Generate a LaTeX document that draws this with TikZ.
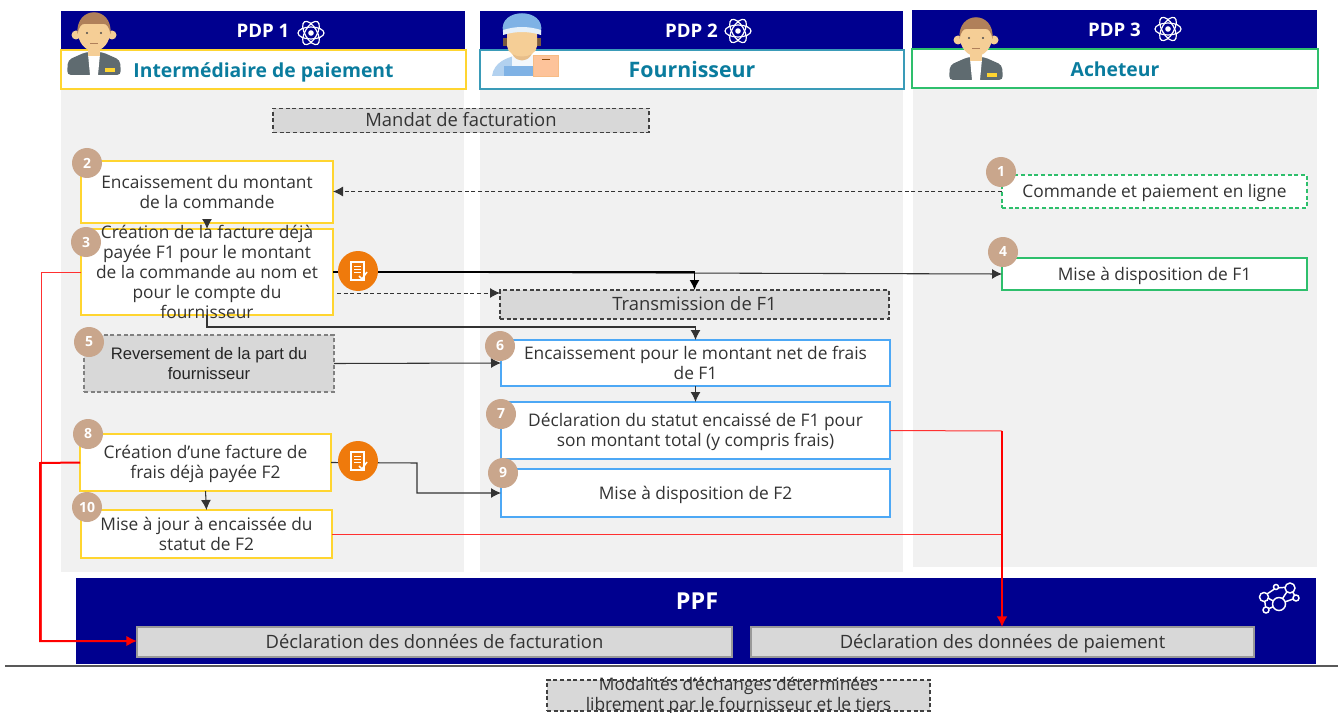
\documentclass[tikz,border=0pt]{standalone}
\usepackage{fontspec}
\setmainfont{Open Sans}
\newfontfamily\arialf{Liberation Sans}
\usetikzlibrary{arrows.meta,calc}
\definecolor{navy}{HTML}{00008F}
\definecolor{panel}{HTML}{F1F1F1}
\definecolor{boxgray}{HTML}{D8D8D8}
\definecolor{ylw}{HTML}{FFD530}
\definecolor{blu}{HTML}{4DA8F5}
\definecolor{teal2}{HTML}{3A9BB8}
\definecolor{grn}{HTML}{2EBF6C}
\definecolor{tan2}{HTML}{C9A68C}
\definecolor{orng}{HTML}{EF7A0C}
\definecolor{titlec}{HTML}{0A7C9E}
\definecolor{txt}{HTML}{333333}
\definecolor{skin}{HTML}{F5CE96}
\definecolor{hair}{HTML}{B0805A}
\definecolor{jacket}{HTML}{5F6B70}
\definecolor{capb}{HTML}{7FB2E5}
\definecolor{boxo}{HTML}{FDC39A}
\definecolor{redl}{HTML}{FF3030}
\newcommand\topstrut{\rule{0pt}{13.9pt}}
\newcommand\botstrut{\rule[-4.5pt]{0pt}{4.5pt}}
\tikzset{
  base/.style={inner sep=0pt,outer sep=0pt,align=center,text=txt,font=\fontsize{13}{15}\selectfont,line width=.8pt,execute at begin node=\topstrut,execute at end node=\botstrut},
  big/.style={font=\fontsize{13.8}{15}\selectfont},
  ybox/.style={base,draw=ylw,fill=white},
  bbox/.style={base,draw=blu,fill=white},
  gbox/.style={base,draw=grn,fill=white},
  gdash/.style={gbox,dash pattern=on 3pt off 2pt},
  dbox/.style={base,big,draw=black!75,fill=boxgray,dash pattern=on 3pt off 2pt},
  dboxa/.style={base,fill=boxgray,dash pattern=on 3pt off 2pt,draw=black!50,font=\arialf\fontsize{12.5}{15}\selectfont,text=black!85},
  pbox/.style={base,big,draw=black!40,fill=boxgray},
  head/.style={base,draw=none,fill=navy,text=white,font=\bfseries\fontsize{14}{16}\selectfont},
  role/.style={base,fill=white,text=titlec,font=\bfseries\fontsize{14.5}{16}\selectfont},
  num/.style={circle,fill=tan2,text=white,font=\bfseries\fontsize{10.5}{12}\selectfont,minimum size=22.5pt,inner sep=0pt},
  orb/.style={circle,fill=orng,minimum size=30pt,inner sep=0pt},
  flow/.style={draw=black!80,line width=.8pt,-{Latex[length=7.5pt,width=7.5pt]}},
  flowk/.style={flow,draw=black,line width=1pt},
  flowd/.style={flow,line width=.7pt,dash pattern=on 3pt off 2pt},
  red1/.style={draw=redl,line width=.75pt},
  red2/.style={draw=red,line width=1.5pt,-{Latex[length=8pt,width=8pt]}},
}
\newcommand\bx[7]{%
  \pgfmathsetmacro\bxcx{(#3+#5)/2}\pgfmathsetmacro\bxcy{(#4+#6)/2}%
  \pgfmathsetmacro\bxw{(#5-#3)*0.75}\pgfmathsetmacro\bxh{(#6-#4)*0.75}%
  \node[#2,minimum width=\bxw pt,minimum height=\bxh pt] (#1) at (\bxcx,\bxcy) {#7};}
\newcommand\atom[2]{%
  \begin{scope}[shift={(#1,#2)},draw=white,line width=.9pt]
    \foreach \r in {0,60,120}{\draw[rotate=\r] (0,0) ellipse [x radius=13,y radius=6];}
    \fill[white] (0,0) circle (2.8);
  \end{scope}}
\newcommand\agent[2]{%
  \begin{scope}[shift={(#1,#2)}]
    \fill[jacket,rounded corners=3pt] (-27,65) -- (-26,50) -- (-8,42) -- (8,42) -- (26,50) -- (27,65) -- cycle;
    \fill[white] (-6,44) -- (6,44) -- (4,65) -- (-4,65) -- cycle;
    \fill[ylw] (11,58) rectangle (21,62);
    \fill[skin] (-6,34) rectangle (6,46);
    \fill[skin] (-18,25) circle (4.5); \fill[skin] (18,25) circle (4.5);
    \fill[skin] (0,22) ellipse [x radius=16,y radius=19];
    \fill[hair] (-16.5,24) .. controls (-19,-5) and (19,-5) .. (16.5,24) .. controls (15,17) and (13,14) .. (10,14) -- (-10,14) .. controls (-13,14) and (-15,17) .. (-16.5,24) -- cycle;
    \fill[black!70] (-7,23) circle (1.2); \fill[black!70] (7,23) circle (1.2);
    \draw[hair,line width=.5pt] (-4,33) -- (4,33);
  \end{scope}}
\newcommand\docicon[2]{%
  \begin{scope}[shift={(#1,#2)}]
    \draw[white,line width=1pt,fill=orng] (-7,-9) rectangle (6,9);
    \foreach \yy in {-5,-2,1}{\draw[white,line width=.7pt] (-4,\yy) -- (3,\yy);}
    \draw[white,line width=1.1pt] (1,5) -- (4,8) -- (9,1);
  \end{scope}}
\begin{document}
\begin{tikzpicture}[x=0.75pt,y=-0.75pt]
\useasboundingbox (0,0) rectangle (1338,713);
% panels
\fill[panel] (61,89) rectangle (464,572);
\fill[panel] (480,89) rectangle (903,572);
\fill[panel] (913,88) rectangle (1317,567);
% headers
\bx{h1}{head}{61}{11}{465}{50}{\raisebox{-.8pt}{PDP 1}}
\bx{h2}{head}{480}{11}{903}{50}{\raisebox{-.8pt}{PDP 2}}
\bx{h3}{head}{912}{10}{1317}{49}{\raisebox{-.8pt}{PDP 3}}
\bx{r1}{role,draw=ylw}{61}{50}{466}{89}{\raisebox{-1.2pt}{Intermédiaire de paiement}}
\bx{r2}{role,draw=teal2,font=\bfseries\fontsize{16}{16}\selectfont}{480}{50}{904}{89}{\raisebox{-1.2pt}{Fournisseur}}
\bx{r3}{role,draw=grn}{912}{49}{1318}{88}{\raisebox{-1.2pt}{Acheteur}}
\atom{311}{33}\atom{738}{31}\atom{1168}{29}
\agent{94}{10}
\agent{976}{15}
% supplier
\begin{scope}[shift={(522,14)}]
  \fill[capb!60] (-30,62) .. controls (-28,48) and (-15,44) .. (-8,42) -- (12,42) -- (12,62) -- cycle;
  \fill[capb] (-18,62) rectangle (12,52);
  \fill[white!90!capb] (-10,42) rectangle (11,52);
  \fill[hair!70!black] (-19,24) rectangle (19,32);
  \fill[skin!80!hair] (-12,30) .. controls (-12,52) and (12,52) .. (12,30) -- cycle;
  \fill[skin] (-15,18) -- (15,18) -- (15,32) .. controls (14,46) and (-14,46) .. (-15,32) -- cycle;
  \fill[capb] (-19,18) .. controls (-24,-7) and (24,-7) .. (19,18) -- cycle;
  \fill[white!80!capb] (-19,16) .. controls (-6,12) and (6,12) .. (19,16) -- (19,21) .. controls (6,17) and (-6,17) .. (-19,21) -- cycle;
  \fill[boxo,draw=orng!50,line width=.5pt] (11,41) rectangle (36,62);
  \fill[orng!60!black] (20,45) rectangle (28,46.5);
\end{scope}
% PPF
\bx{ppf}{base,fill=navy}{76}{578}{1316}{664}{}
\node[font=\bfseries\fontsize{17.5}{18}\selectfont,text=white,inner sep=0pt] (ppft) at (697,601) {PPF};
\begin{scope}[draw=white,line width=1.1pt,fill=navy]
  \draw (1264,596) -- (1276,588) -- (1290,587) -- (1296,598) -- (1279,604) -- (1264,596);
  \draw (1264,596) -- (1266,610) -- (1279,604) -- (1290,587);
  \filldraw (1264,597) circle (4.5); \filldraw (1290,588) circle (5);
  \filldraw (1279,604) circle (6.5); \filldraw (1296,598) circle (3);
  \filldraw (1266,610) circle (3); \filldraw (1276,587) circle (2.5);
\end{scope}
\bx{pf}{pbox}{137}{627}{732}{657}{Déclaration des données de facturation}
\bx{pp}{pbox}{751}{627}{1254}{657}{Déclaration des données de paiement}
\coordinate (ruleL) at (5,666); \coordinate (ruleR) at (1338,666);
\draw[black!65,line width=1pt] (ruleL) -- (ruleR);
% boxes
\bx{man}{dbox}{273}{110}{649}{131}{Mandat de facturation}
\bx{b1}{gdash}{1002}{175}{1307}{208}{Commande et paiement en ligne}
\bx{b2}{ybox}{81}{161}{333}{223}{\topstrut Encaissement du montant\\de la commande}
\bx{b3}{ybox}{81}{229}{333}{315}{}
\bx{b4}{gbox}{1002}{258}{1307}{290}{Mise à disposition de F1}
\bx{tx}{dbox}{500}{290}{889}{319}{Transmission de F1}
\bx{b5}{dboxa}{84}{335}{334}{392}{\topstrut Reversement de la part du\\fournisseur}
\bx{b6}{bbox}{501}{340}{890}{386}{\topstrut Encaissement pour le montant net de frais\\de F1}
\bx{b7}{bbox}{501}{402}{890}{459}{\topstrut Déclaration du statut encaissé de F1 pour\\son montant total (y compris frais)}
\bx{b8}{ybox}{80}{434}{331}{491}{\topstrut Création d’une facture de\\frais déjà payée F2}
\bx{b9}{bbox}{501}{469}{890}{517}{Mise à disposition de F2}
\bx{b10}{ybox}{81}{510}{332}{558}{\topstrut Mise à jour à encaissée du\\statut de F2}
\bx{mod}{dbox}{547}{680}{930}{711}{}
% connector helpers
\coordinate (dstart) at (337,293);
\coordinate (low3) at (450,327);
\coordinate (left3) at (41,272);
\coordinate (left8) at (40,463);
\coordinate (leftb) at (40,641);
\coordinate (step8a) at (417,463);
\coordinate (step8b) at (417,493);
\coordinate (jr) at (1002,431);
% connectors
\draw[flowd] (b1.west) -- (b1.west -| b2.east);
\draw[flow] (b2.south) -- (b3.north);
\draw[flow] (b3.east) -- (b4.west);
\draw[flowk] (b3.east) -| (tx.north);
\draw[flowd] (dstart) -- (dstart -| tx.west);
\draw[flow] (b3.south) |- (low3) -| (b6.north);
\draw[flow] (b5.east) -- (b6.west);
\draw[flow] (b6.south) -- (b7.north);
\draw[flow] (b8.south) -- (b10.north);
\draw[flow] (b8.east) -- (step8a) -- (step8b) -- (step8b -| b9.west);
\draw[red1] (b3.west) -- (left3) -- (left3 |- leftb);
\draw[red2] (b8.west) -- (left8) -- (leftb) -- (leftb -| pf.west);
\draw[red1] (b7.east) -- (jr);
\draw[red1] (b10.east) -- (jr |- b10.east);
\draw[red2,line width=1pt] (jr) -- (jr |- pp.north);
% text on top of its box (it overflows)
\node[base,text=txt] (b3t) at (b3.center) {\topstrut Création de la facture déjà\\payée F1 pour le montant\\de la commande au nom et\\pour le compte du\\fournisseur};
\node[base,text=txt] (modt) at ($(mod.center)+(0,-1)$) {\topstrut Modalités d’échanges déterminées\\librement par le fournisseur et le tiers};
% orange circles
\node[orb] (o1) at (358,271) {};
\node[orb] (o2) at (358,461) {};
\docicon{358}{271}\docicon{358}{461}
% numbers
\node[num] (n1) at (1001,172) {1};
\node[num] (n2) at (87,163) {2};
\node[num] (n3) at (86,242) {3};
\node[num] (n4) at (1003,252) {4};
\node[num] (n5) at (89,342) {5};
\node[num] (n6) at (500,346) {6};
\node[num] (n7) at (501,414) {7};
\node[num] (n8) at (88,434) {8};
\node[num] (n9) at (503,473) {9};
\node[num] (n10) at (87,507) {10};
\end{tikzpicture}
\end{document}
